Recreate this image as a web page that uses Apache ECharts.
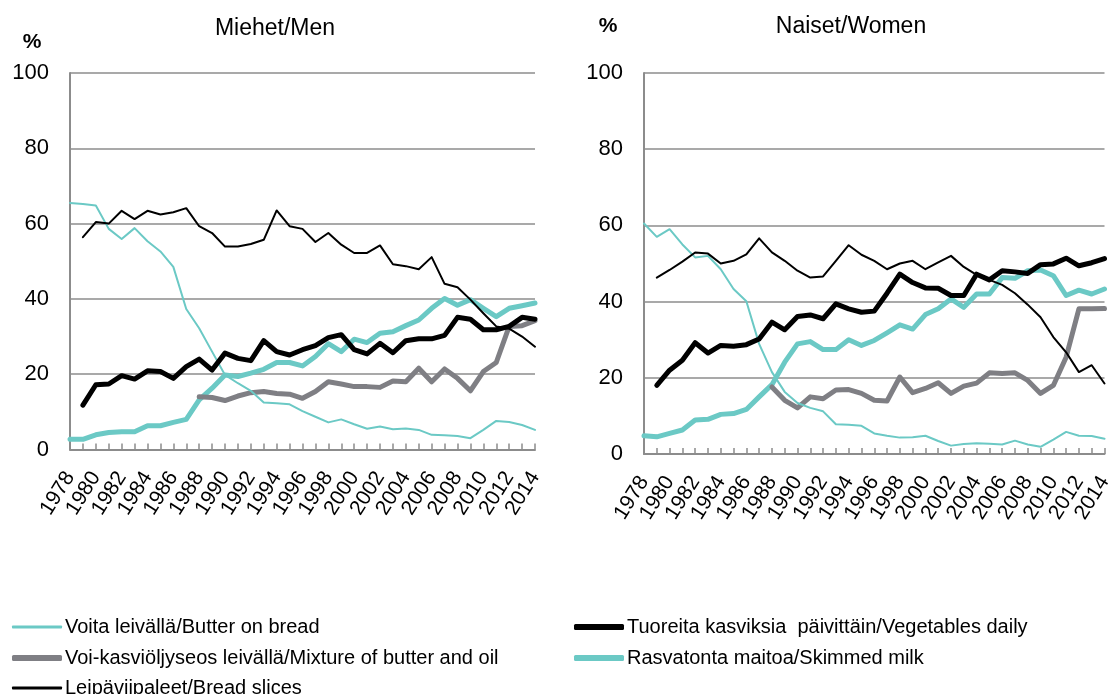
<!DOCTYPE html>
<html>
<head>
<meta charset="utf-8">
<script src="https://cdn.jsdelivr.net/npm/echarts@6/dist/echarts.min.js"></script>
<style>
html,body{margin:0;padding:0;background:#fff;}
#c{width:1115px;height:694px;}
</style>
</head>
<body>
<div id="c"></div>
<script>
var years = ['1978','1979','1980','1981','1982','1983','1984','1985','1986','1987','1988','1989','1990','1991','1992','1993','1994','1995','1996','1997','1998','1999','2000','2001','2002','2003','2004','2005','2006','2007','2008','2009','2010','2011','2012','2013','2014'];
var yTicks = [0, 20, 40, 60, 80, 100];

var names = {
  butter: 'Voita leivällä/Butter on bread',
  mix: 'Voi-kasviöljyseos leivällä/Mixture of butter and oil',
  bread: 'Leipäviipaleet/Bread slices',
  veg: 'Tuoreita kasviksia  päivittäin/Vegetables daily',
  skim: 'Rasvatonta maitoa/Skimmed milk'
};

// Men
var butterM = [65.5,65.2,64.8,58.6,55.9,58.8,55.3,52.6,48.5,37.3,32.2,26,19.8,17.6,15.6,12.5,12.3,12,10.2,8.7,7.2,8,6.7,5.5,6.1,5.4,5.6,5.2,3.9,3.8,3.6,3.0,5.2,7.6,7.3,6.5,5.2];
var mixM = [null,null,null,null,null,null,null,null,null,null,14.0,13.8,13.0,14.2,15.1,15.4,14.9,14.7,13.6,15.4,18.0,17.4,16.7,16.7,16.5,18.2,18.0,21.6,18,21.4,18.9,15.6,20.7,23.1,32.7,32.9,34.2];
var breadM = [null,56.4,60.4,60.0,63.4,61.2,63.4,62.4,63.0,64.1,59.3,57.5,53.9,53.9,54.6,55.7,63.5,59.3,58.6,55.1,57.5,54.4,52.2,52.2,54.2,49.2,48.7,47.9,51.1,44,43.1,39.8,36.2,32.7,32.1,30,27.3];
var vegM = [null,11.8,17.2,17.4,19.6,18.7,20.9,20.7,18.9,22,24,21.1,25.6,24.2,23.6,28.9,26,25.1,26.5,27.6,29.7,30.5,26.5,25.4,28.2,25.7,28.9,29.4,29.4,30.3,35.1,34.6,31.8,31.8,32.7,35.1,34.6];
var skimM = [2.7,2.7,3.9,4.5,4.7,4.7,6.3,6.3,7.2,8.0,13.2,16.3,19.8,19.4,20.3,21.3,23.1,23.1,22.2,24.7,28.1,26,29.3,28.4,30.9,31.3,32.9,34.4,37.5,40.1,38.3,39.8,37.5,35.3,37.5,38.2,38.9];

// Women
var butterW = [60.5,57,59,55,51.6,52,48.5,43.3,40.1,28.9,21.5,16.3,13.4,12.1,11.2,7.8,7.7,7.4,5.4,4.8,4.3,4.4,4.8,3.4,2.2,2.6,2.8,2.7,2.5,3.5,2.5,1.9,3.8,5.8,4.8,4.7,4.0];
var mixW = [null,null,null,null,null,null,null,null,null,null,17.6,14.1,12.1,15,14.5,16.8,16.9,15.9,14.1,13.9,20.2,16.1,17.2,18.7,15.9,17.8,18.6,21.3,21.1,21.3,19.3,15.9,18,25.4,38.1,38.1,38.2];
var breadW = [null,46.3,48.3,50.5,52.9,52.6,50,50.7,52.4,56.6,52.9,50.7,48.1,46.3,46.6,50.7,54.8,52.3,50.7,48.5,50,50.7,48.5,50.3,52,49.1,47,45.7,44.4,42.2,39.2,35.9,30.7,26.7,21.5,23.3,18.5];
var vegW = [null,18.0,22,24.6,29.2,26.5,28.5,28.3,28.7,30.2,34.6,32.6,36.1,36.5,35.5,39.4,38.1,37.2,37.5,42.2,47.2,45,43.6,43.5,41.6,41.6,47.2,45.7,48.1,47.8,47.4,49.7,49.9,51.4,49.4,50.2,51.3];
var skimW = [4.8,4.5,5.4,6.3,8.9,9.1,10.4,10.6,11.7,15,18.2,24.1,28.9,29.5,27.4,27.4,30,28.5,29.8,31.8,33.9,32.8,36.6,38.1,40.7,38.5,42,42,46.3,46.1,48.1,48.3,46.8,41.6,43,42,43.3];

var TURQ = '#6BC9C5';
var GRAY = '#7F7F84';
var BLACK = '#000000';
var AXIS = '#8C8C8C';
var FONT = '"Liberation Sans", Arial, sans-serif';

var styles = {
  butter: {color: TURQ, width: 2},
  mix: {color: GRAY, width: 5},
  bread: {color: BLACK, width: 2},
  veg: {color: BLACK, width: 5},
  skim: {color: TURQ, width: 5}
};

function mk(key, data, idx) {
  var s = styles[key];
  return {
    name: names[key], type: 'line', data: data,
    xAxisIndex: idx, yAxisIndex: idx,
    symbol: 'none', showSymbol: false, connectNulls: false,
    lineStyle: {color: s.color, width: s.width, join: 'round', cap: 'round'},
    itemStyle: {color: s.color},
    emphasis: {disabled: true},
    animation: false
  };
}

function xAx(idx) {
  return {
    type: 'category', gridIndex: idx, data: years, boundaryGap: false,
    axisLine: {lineStyle: {color: AXIS, width: 2}},
    axisTick: {show: true, inside: true, length: 6, interval: 0, lineStyle: {color: AXIS, width: 1.5}},
    axisLabel: {interval: 0, rotate: 58, margin: 24, fontSize: 21, lineHeight: 14, color: '#000', fontFamily: FONT,
                showMinLabel: true, showMaxLabel: true, hideOverlap: false,
                formatter: function (v, i) { return i % 2 === 0 ? v : ''; }},
    splitLine: {show: false}
  };
}
function yAx(idx) {
  return {
    type: 'value', gridIndex: idx, min: yTicks[0], max: yTicks[yTicks.length-1], interval: 20,
    axisLine: {show: true, lineStyle: {color: AXIS, width: 2}},
    axisTick: {show: false},
    axisLabel: {fontSize: 22, color: '#000', margin: 21, fontFamily: FONT},
    splitLine: {show: true, lineStyle: {color: AXIS, width: 1.5}}
  };
}

function leg(key, left, top, h) {
  return {
    data: [names[key]], left: left, top: top, padding: 0,
    icon: 'roundRect', itemWidth: 50, itemHeight: h,
    textStyle: {fontSize: 20, lineHeight: 22, color: '#000', fontFamily: FONT, padding: [0,0,0,-2]},
    selectedMode: false
  };
}

var chart = echarts.init(document.getElementById('c'), null, {renderer: 'canvas'});
chart.setOption({
  backgroundColor: '#fff',
  animation: false,
  textStyle: {fontFamily: FONT},
  grid: [
    {left: 70, top: 73, width: 465, height: 376.5},
    {left: 644, top: 73, width: 464, height: 381}
  ],
  xAxis: [xAx(0), xAx(1)],
  yAxis: [yAx(0), yAx(1)],
  legend: [
    leg('butter', 12, 616, 3),
    leg('mix', 12, 647, 6),
    leg('bread', 12, 677, 3),
    leg('veg', 574, 616, 6),
    leg('skim', 574, 647, 6)
  ],
  graphic: [
    {type: 'text', style: {text: 'Miehet/Men', x: 275, y: 29, align: 'center', verticalAlign: 'middle', fill: '#000', font: '23px "Liberation Sans", Arial, sans-serif'}},
    {type: 'text', style: {text: 'Naiset/Women', x: 851, y: 27, align: 'center', verticalAlign: 'middle', fill: '#000', font: '23px "Liberation Sans", Arial, sans-serif'}},
    {type: 'text', style: {text: '%', x: 32, y: 42, align: 'center', verticalAlign: 'middle', fill: '#000', font: 'bold 21px "Liberation Sans", Arial, sans-serif'}},
    {type: 'text', style: {text: '%', x: 608, y: 26, align: 'center', verticalAlign: 'middle', fill: '#000', font: 'bold 21px "Liberation Sans", Arial, sans-serif'}}
  ],
  series: [
    mk('skim', skimM, 0), mk('mix', mixM, 0), mk('butter', butterM, 0), mk('veg', vegM, 0), mk('bread', breadM, 0),
    mk('skim', skimW, 1), mk('mix', mixW, 1), mk('butter', butterW, 1), mk('veg', vegW, 1), mk('bread', breadW, 1)
  ]
});
</script>
</body>
</html>
